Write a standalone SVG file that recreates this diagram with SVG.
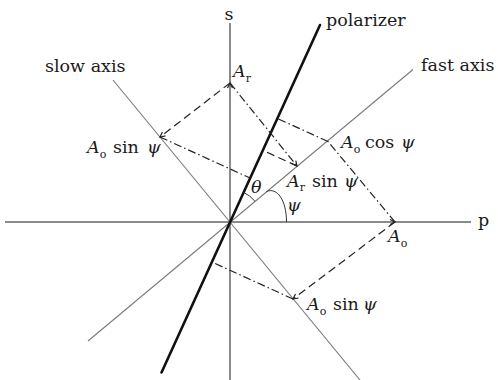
<svg xmlns="http://www.w3.org/2000/svg" width="498" height="380" viewBox="0 0 498 380">
<style>
text{font-family:"DejaVu Serif","Liberation Serif",serif;font-size:17.5px;fill:#1a1a1a}
.it{font-style:italic}
.sub{font-size:11px}
.axis{stroke:#8a8a8a;stroke-width:2;fill:none}
.ax2{stroke:#7a7a7a;stroke-width:1.1;fill:none}
.pol{stroke:#111;stroke-width:2.6;fill:none;stroke-linecap:round}
.dash{stroke:#222;stroke-width:1.2;fill:none;stroke-dasharray:8 4.5}
.dd{stroke:#222;stroke-width:1.2;fill:none;stroke-dasharray:8 3 1.5 3}
.arc{stroke:#333;stroke-width:1;fill:none}
.vec{stroke:none;fill:none}
</style>
<defs>
<marker id="arr" markerUnits="userSpaceOnUse" markerWidth="8" markerHeight="8" refX="5" refY="2.5" orient="auto" overflow="visible">
<path d="M0,0 L5,2.5 L0,5" fill="none" stroke="#222" stroke-width="1.2"/>
</marker>
</defs>
<rect width="498" height="380" fill="#fff"/>
<g id="axes">
<line id="p-axis" class="axis" x1="5" y1="222" x2="471" y2="222"/>
<line id="s-axis" class="axis" x1="230" y1="23" x2="230" y2="380"/>
<line id="fast-axis" class="ax2" x1="88" y1="341" x2="413" y2="69.5"/>
<line id="slow-axis" class="ax2" x1="113" y1="80" x2="360" y2="380"/>
<line id="polarizer" class="pol" x1="161.5" y1="372.5" x2="320" y2="25"/>
</g>
<g id="connectors">
<path class="dd" d="M328,141.5 L277.2,118.4"/>
<path class="dd" d="M160,137 L250,178"/>
<path class="dd" d="M293,299 L211.8,262"/>
<path class="dash" d="M297,166 L262.7,150.3"/>
<path class="dd" d="M395,222 L328,141.5"/>
<path class="dash" d="M395,222 L293,299" marker-end="url(#arr)"/>
<path class="dash" d="M230,83 L160,137" marker-end="url(#arr)"/>
<path class="dd" d="M230,83 L297,166" marker-end="url(#arr)"/>
<path class="vec" d="M385,222 L395,222" marker-end="url(#arr)"/>
<path class="vec" d="M230,93 L230,83" marker-end="url(#arr)"/>
<path class="arc" d="M243.5,192.4 A32.5,32.5 0 0 1 254.9,201.1"/>
<path class="arc" d="M266.5,191.5 C277,187 286.5,200 286.5,222"/>
</g>
<g id="labels">
<text x="229" y="20" text-anchor="middle">s</text>
<text x="326" y="26">polarizer</text>
<text x="45" y="72">slow axis</text>
<text x="421" y="71">fast axis</text>
<text x="478" y="226">p</text>
<text x="233" y="77"><tspan class="it">A</tspan><tspan class="sub" dy="5">r</tspan></text>
<text x="87" y="153"><tspan class="it">A</tspan><tspan class="sub" dy="5">o</tspan><tspan x="113" dy="-5">sin</tspan><tspan class="it" x="147">ψ</tspan></text>
<text x="341" y="148"><tspan class="it">A</tspan><tspan class="sub" dy="5">o</tspan><tspan x="365" dy="-5">cos</tspan><tspan class="it" x="401">ψ</tspan></text>
<text x="287" y="187"><tspan class="it">A</tspan><tspan class="sub" dy="4">r</tspan><tspan x="312" dy="-4">sin</tspan><tspan class="it" x="344">ψ</tspan></text>
<text x="251" y="193" class="it">θ</text>
<text x="287" y="211" class="it">ψ</text>
<text x="388" y="242"><tspan class="it">A</tspan><tspan class="sub" dy="5">o</tspan></text>
<text x="307" y="310"><tspan class="it">A</tspan><tspan class="sub" dy="5">o</tspan><tspan x="333" dy="-5">sin</tspan><tspan class="it" x="363">ψ</tspan></text>
</g>
</svg>
